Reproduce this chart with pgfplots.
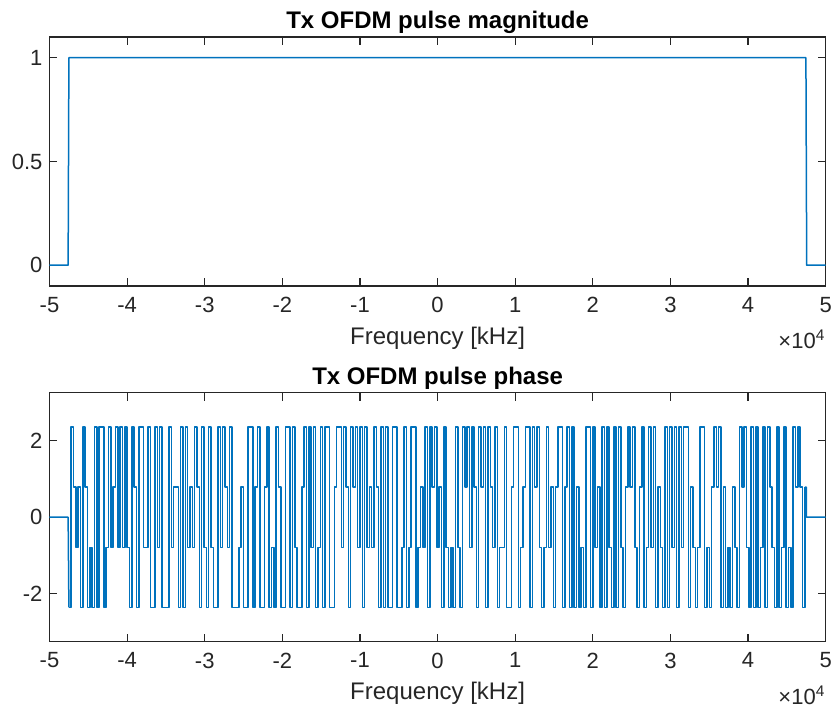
\documentclass[border=0pt]{standalone}
\usepackage{pgfplots}
\pgfplotsset{compat=1.18}
\usepackage{pgfplotstable}
\usepackage{fontspec}
\setmainfont{Liberation Sans}
\definecolor{mblue}{rgb}{0,0.447,0.741}
\definecolor{maxis}{rgb}{0.15,0.15,0.15}

% phase of the occupied subcarriers, one value every 300 Hz starting at -47500 Hz
\pgfplotstableread[row sep=\\,header=false]{
-2.3562\\ 2.3562\\ 0.7854\\ -0.7854\\ 0.7854\\ -2.3562\\ 2.3562\\ 0.7854\\ -2.3562\\ -0.7854\\
-2.3562\\ 2.3562\\ -2.3562\\ 2.3562\\ 2.3562\\ -2.3562\\ -0.7854\\ 2.3562\\ -0.7854\\ 0.7854\\
2.3562\\ -0.7854\\ 2.3562\\ -0.7854\\ 2.3562\\ -0.7854\\ -2.3562\\ 2.3562\\ 0.7854\\ -2.3562\\
2.3562\\ 2.3562\\ -0.7854\\
-0.7854\\ 2.3562\\ -2.3562\\ -2.3562\\ 2.3562\\ -0.7854\\ 2.3562\\ -2.3562\\ -2.3562\\ -2.3562\\
2.3562\\ -0.7854\\ 0.7854\\ 0.7854\\ -2.3562\\ 2.3562\\ -2.3562\\ 2.3562\\ -0.7854\\ 0.7854\\
-0.7854\\ 2.3562\\ 0.7854\\ -2.3562\\ 2.3562\\ -0.7854\\ -2.3562\\ 2.3562\\ -0.7854\\ -2.3562\\
-2.3562\\ 2.3562\\ -0.7854\\ 2.3562\\ 0.7854\\ -0.7854\\ 2.3562\\
-2.3562\\ -2.3562\\ -2.3562\\ -0.7854\\ 0.7854\\ -2.3562\\ -2.3562\\ 2.3562\\ 2.3562\\ -2.3562\\
0.7854\\ 2.3562\\ -2.3562\\ -2.3562\\ 0.7854\\ 2.3562\\ -2.3562\\ -0.7854\\ -2.3562\\ 2.3562\\
0.7854\\ -2.3562\\ -2.3562\\ 2.3562\\ 2.3562\\ -2.3562\\ 2.3562\\ -0.7854\\ -2.3562\\ -2.3562\\
0.7854\\ 2.3562\\ -2.3562\\ 2.3562\\ -0.7854\\ 2.3562\\
-2.3562\\ -0.7854\\ 2.3562\\ -2.3562\\ 2.3562\\ 2.3562\\ -2.3562\\ -2.3562\\ 0.7854\\ 2.3562\\
2.3562\\ -0.7854\\ 2.3562\\ 0.7854\\ -2.3562\\ 2.3562\\ 0.7854\\ 2.3562\\ -0.7854\\ 2.3562\\
-2.3562\\ 2.3562\\ -0.7854\\ 0.7854\\ -0.7854\\ 2.3562\\ 0.7854\\ -2.3562\\ 2.3562\\ -2.3562\\
2.3562\\ -2.3562\\ -2.3562\\ 2.3562\\ 2.3562\\ -2.3562\\
-2.3562\\ -0.7854\\ 2.3562\\ -2.3562\\ -0.7854\\ 2.3562\\ 2.3562\\ -2.3562\\ -0.7854\\ 0.7854\\
-0.7854\\ 2.3562\\ -2.3562\\ 2.3562\\ 0.7854\\ 2.3562\\ -0.7854\\ 0.7854\\ -2.3562\\ 2.3562\\
-0.7854\\ -2.3562\\ -0.7854\\ -2.3562\\ 2.3562\\ -0.7854\\ -2.3562\\ 2.3562\\ 0.7854\\ 2.3562\\
-0.7854\\ 2.3562\\ 0.7854\\ -2.3562\\ 2.3562\\ 0.7854\\ 2.3562\\
-2.3562\\ 2.3562\\ 0.7854\\ -0.7854\\ 2.3562\\ -2.3562\\ -0.7854\\ -0.7854\\ 2.3562\\ -2.3562\\
-2.3562\\ 0.7854\\ 2.3562\\ 2.3562\\ -2.3562\\ -0.7854\\ 0.7854\\ 2.3562\\ 2.3562\\ -2.3562\\
2.3562\\ 0.7854\\ 2.3562\\ -0.7854\\ -2.3562\\ -0.7854\\ 2.3562\\ -0.7854\\ 0.7854\\ -2.3562\\
0.7854\\ 2.3562\\ 2.3562\\ -2.3562\\ 0.7854\\ 2.3562\\
-2.3562\\ 2.3562\\ -2.3562\\ 0.7854\\ -2.3562\\ -0.7854\\ -2.3562\\ 2.3562\\ 2.3562\\ -2.3562\\
2.3562\\ -0.7854\\ 0.7854\\ -2.3562\\ 2.3562\\ -2.3562\\ 2.3562\\ -0.7854\\ -2.3562\\ 2.3562\\
-2.3562\\ 2.3562\\ -0.7854\\ -2.3562\\ 0.7854\\ 2.3562\\ 0.7854\\ 2.3562\\ -0.7854\\ -2.3562\\
0.7854\\ 2.3562\\ -2.3562\\ -0.7854\\ 2.3562\\ -0.7854\\ 2.3562\\
-2.3562\\ 0.7854\\ -0.7854\\ -2.3562\\ 2.3562\\ -2.3562\\ 2.3562\\ -0.7854\\ 2.3562\\ -2.3562\\
2.3562\\ -0.7854\\ 2.3562\\ 2.3562\\ -2.3562\\ 0.7854\\ -0.7854\\ -2.3562\\ -0.7854\\ 2.3562\\
2.3562\\ -2.3562\\ -0.7854\\ -2.3562\\ 0.7854\\ 2.3562\\ 0.7854\\ 2.3562\\ -2.3562\\ 0.7854\\
-2.3562\\ -0.7854\\ -2.3562\\ 0.7854\\ -0.7854\\ -2.3562\\
2.3562\\ 0.7854\\ 2.3562\\ -0.7854\\ -2.3562\\ 2.3562\\ -2.3562\\ 2.3562\\ -2.3562\\ -0.7854\\
2.3562\\ -2.3562\\ 2.3562\\ 0.7854\\ -0.7854\\ -2.3562\\ 2.3562\\ -2.3562\\ -0.7854\\ 2.3562\\
-2.3562\\ -0.7854\\ -2.3562\\ 2.3562\\ 0.7854\\ 2.3562\\ 0.7854\\ -2.3562\\ 0.7854\\
}\phasedata

\pgfplotsset{
  mstyle/.style={
    scale only axis, width=388.1pt, height=124.5pt,
    anchor=south west,
    xmin=-50000, xmax=50000,
    xtick={-50000,-40000,...,50000},
    scaled x ticks=base 10:-4,
    xtick scale label code/.code={\fontsize{11}{13}\selectfont\color{maxis}×10\textsuperscript{##1}},
    every x tick scale label/.style={at={(axis description cs:1,0)}, anchor=north east, yshift=-20pt, inner sep=0pt},
    tick align=inside, xtick pos=both, ytick pos=both, xticklabel pos=lower, yticklabel pos=left,
    major tick length=3.9pt,
    axis line style={maxis, line width=0.6pt},
    every tick/.style={maxis, line width=0.6pt},
    tick label style={font=\fontsize{11}{13}\selectfont, text=maxis},
    /pgf/number format/assume math mode=true,
    xlabel={Frequency [kHz]},
    label style={font=\fontsize{12}{14}\selectfont, text=maxis},
    xlabel style={at={(axis description cs:0.5,0)}, anchor=center, yshift=-26pt},
    title style={font=\bfseries\fontsize{12}{14}\selectfont, text=black, yshift=-8pt},
    xticklabel style={yshift=-2pt},
  },
  mline/.style={mblue, line width=0.75pt, mark=none, line join=round},
}

\begin{document}
\begin{tikzpicture}
\useasboundingbox (-24.75pt,-34.65pt) rectangle (391.25pt,320.85pt);
\begin{axis}[mstyle, at={(0pt,177.85pt)},
  ymin=-0.1, ymax=1.1, ytick={0,0.5,1},
  title={Tx OFDM pulse magnitude}]
\addplot[mline] coordinates {(-50000,0) (-47600,0) (-47500,1) (47450,1) (47550,0) (50000,0)};
\end{axis}
\begin{axis}[mstyle, at={(0pt,0pt)},
  ymin=-3.25, ymax=3.25, ytick={-2,0,2},
  title={Tx OFDM pulse phase}]
\addplot[mline] coordinates {(-50000,0) (-47600,0) (-47500,-2.3562)};
\addplot[mline, const plot] table[x expr={-47500+300*\coordindex}, y index=0] {\phasedata};
\addplot[mline] coordinates {(47300,0.7854) (47500,0.7854) (47520,0) (50000,0)};
\end{axis}
\end{tikzpicture}
\end{document}
